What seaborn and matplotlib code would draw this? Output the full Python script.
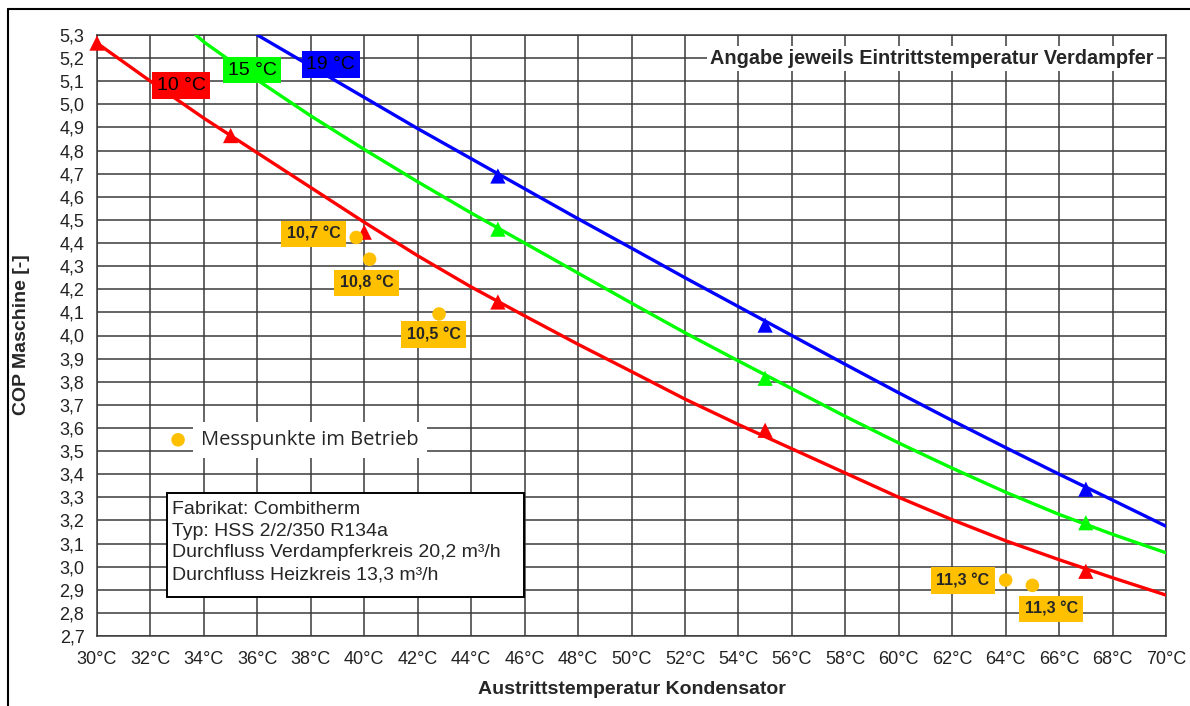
import pandas as pd
import seaborn as sns
import matplotlib.pyplot as plt
from matplotlib.lines import Line2D
from matplotlib.patches import Rectangle

# Trendlinien - COP über Austrittstemperatur Kondensator
temp_10 = [30, 32, 34, 36, 38, 40, 42, 44, 46, 48, 50, 52, 54, 56, 58, 60, 62, 64, 66, 68, 70]
cop_10 = [5.265, 5.100, 4.940, 4.790, 4.640, 4.490, 4.345, 4.210, 4.085, 3.962, 3.844,
          3.725, 3.615, 3.510, 3.405, 3.300, 3.203, 3.112, 3.030, 2.952, 2.877]
temp_15 = [33.7, 34, 36, 38, 40, 42, 44, 46, 48, 50, 52, 54, 56, 58, 60, 62, 64, 66, 68, 70]
cop_15 = [5.300, 5.270, 5.105, 4.950, 4.805, 4.665, 4.530, 4.400, 4.270, 4.140, 4.012,
          3.890, 3.770, 3.650, 3.535, 3.426, 3.322, 3.226, 3.140, 3.060]
temp_19 = [36, 38, 40, 42, 44, 46, 48, 50, 52, 54, 56, 58, 60, 62, 64, 66, 68, 70]
cop_19 = [5.300, 5.165, 5.030, 4.895, 4.765, 4.635, 4.505, 4.378, 4.250, 4.125, 4.000,
          3.875, 3.752, 3.632, 3.515, 3.400, 3.288, 3.175]

# Herstellerangaben (Dreiecke)
pts_temp_10 = [30, 35, 40, 45, 55, 67]
pts_cop_10 = [5.265, 4.865, 4.447, 4.145, 3.590, 2.980]
pts_temp_15 = [45, 55, 67]
pts_cop_15 = [4.460, 3.815, 3.190]
pts_temp_19 = [45, 55, 67]
pts_cop_19 = [4.690, 4.045, 3.335]

# Messpunkte im Betrieb
mess_temp = [39.7, 40.2, 42.8, 64.0, 65.0]
mess_cop = [4.424, 4.330, 4.093, 2.942, 2.919]
mess_labels = ["10,7 °C", "10,8 °C", "10,5 °C", "11,3 °C", "11,3 °C"]
mess_label_pos = [(38.1, 4.438), (40.1, 4.228), (42.6, 4.004), (62.4, 2.940), (65.7, 2.817)]

series_names = ["10 °C", "15 °C", "19 °C"]
series_colors = {"10 °C": "#FF0000", "15 °C": "#00FF00", "19 °C": "#0000FF"}
series_label_pos = {"10 °C": (33.15, 5.083), "15 °C": (35.8, 5.148), "19 °C": (38.75, 5.172)}

x_ticks = list(range(30, 71, 2))
y_ticks = [2.7, 2.8, 2.9, 3.0, 3.1, 3.2, 3.3, 3.4, 3.5, 3.6, 3.7, 3.8, 3.9, 4.0,
           4.1, 4.2, 4.3, 4.4, 4.5, 4.6, 4.7, 4.8, 4.9, 5.0, 5.1, 5.2, 5.3]

curves = pd.concat([
    pd.DataFrame({"temp": temp_10, "cop": cop_10, "serie": "10 °C"}),
    pd.DataFrame({"temp": temp_15, "cop": cop_15, "serie": "15 °C"}),
    pd.DataFrame({"temp": temp_19, "cop": cop_19, "serie": "19 °C"}),
])
points = pd.concat([
    pd.DataFrame({"temp": pts_temp_10, "cop": pts_cop_10, "serie": "10 °C"}),
    pd.DataFrame({"temp": pts_temp_15, "cop": pts_cop_15, "serie": "15 °C"}),
    pd.DataFrame({"temp": pts_temp_19, "cop": pts_cop_19, "serie": "19 °C"}),
])

sns.set_style("white")
plt.rcParams["font.family"] = ["Liberation Sans", "DejaVu Sans"]

grid_col = "#3a3a3a"
fig = plt.figure(figsize=(11.9, 7.06), dpi=100)
ax = fig.add_axes([97 / 1190, 70 / 706, 1069 / 1190, 601 / 706])

sns.lineplot(data=curves, x="temp", y="cop", hue="serie", palette=series_colors,
             linewidth=2.4, legend=False, ax=ax, zorder=3)
sns.scatterplot(data=points, x="temp", y="cop", hue="serie", palette=series_colors,
                marker="^", s=120, edgecolor="none", legend=False, ax=ax, zorder=4)
ax.collections[-1].set_clip_on(False)
sns.scatterplot(x=mess_temp, y=mess_cop, color="#FFC000", s=95, edgecolor="none",
                label="Messpunkte im Betrieb", ax=ax, zorder=4)

ax.set_xlim(30, 70)
ax.set_ylim(2.7, 5.3)
ax.set_xticks(x_ticks)
ax.set_xticklabels([f"{t}°C" for t in x_ticks])
ax.set_yticks(y_ticks)
ax.set_yticklabels([f"{v:.1f}".replace(".", ",") for v in y_ticks])
ax.set_axisbelow(True)
ax.grid(True, color=grid_col, linewidth=1.1)
for sp in ax.spines.values():
    sp.set_color(grid_col)
    sp.set_linewidth(1.1)
ax.tick_params(axis="both", direction="out", length=5, width=1.1, color=grid_col,
               labelsize=13, labelcolor="#222222")
ax.tick_params(axis="x", pad=6)
ax.tick_params(axis="y", pad=4)
ax.set_xlabel("")
ax.set_ylabel("")

# Serienbeschriftungen
for name in series_names:
    x, y = series_label_pos[name]
    ax.text(x, y, name, ha="center", va="center", fontsize=14, color="black", zorder=6,
            bbox=dict(boxstyle="square,pad=0.25", facecolor=series_colors[name], edgecolor="none"))

# Beschriftung der Messpunkte
for lab, (x, y) in zip(mess_labels, mess_label_pos):
    ax.text(x, y, lab, ha="center", va="center", fontsize=11.5, fontweight="bold", zorder=6,
            bbox=dict(boxstyle="square,pad=0.35", facecolor="#FFC000", edgecolor="none"))

ax.text(69.55, 5.2, "Angabe jeweils Eintrittstemperatur Verdampfer", ha="right", va="center",
        fontsize=14.3, fontweight="bold", zorder=6,
        bbox=dict(boxstyle="square,pad=0.15", facecolor="white", edgecolor="none"))

leg = ax.legend(loc="center left", bbox_to_anchor=(0.057, 0.326), frameon=False,
                handletextpad=0.55, borderaxespad=0, handlelength=1.2,
                prop={"family": "Open Sans", "size": 14.5})
leg.set_zorder(7)
leg.get_texts()[0].set_bbox(dict(facecolor="white", edgecolor="none", pad=6))

# Infobox
ax.add_patch(Rectangle((0.0655, 0.0649), 0.334, 0.173, transform=ax.transAxes,
                       facecolor="white", edgecolor="black", linewidth=1.4, zorder=6))
ax.text(0.0706, 0.2245, "Fabrikat: Combitherm\nTyp: HSS 2/2/350 R134a\n"
        "Durchfluss Verdampferkreis 20,2 m³/h\nDurchfluss Heizkreis 13,3 m³/h",
        transform=ax.transAxes, ha="left", va="top", fontsize=14, linespacing=1.36, zorder=7)

fig.text(632 / 1190, 1 - 690 / 706, "Austrittstemperatur Kondensator", ha="center",
         va="center", fontsize=14, fontweight="bold")
fig.text(22 / 1190, 1 - 335 / 706, "COP Maschine [-]", ha="center", va="center",
         rotation=90, fontsize=14, fontweight="bold")

# Rahmen um die Grafik
fig.add_artist(Line2D([8 / 1190, 8 / 1190], [0, 1 - 9 / 706], transform=fig.transFigure,
                      color="black", linewidth=1.5))
fig.add_artist(Line2D([8 / 1190, 1], [1 - 9 / 706, 1 - 9 / 706], transform=fig.transFigure,
                      color="black", linewidth=1.5))

fig.savefig("out.png", dpi=100, facecolor="white")
